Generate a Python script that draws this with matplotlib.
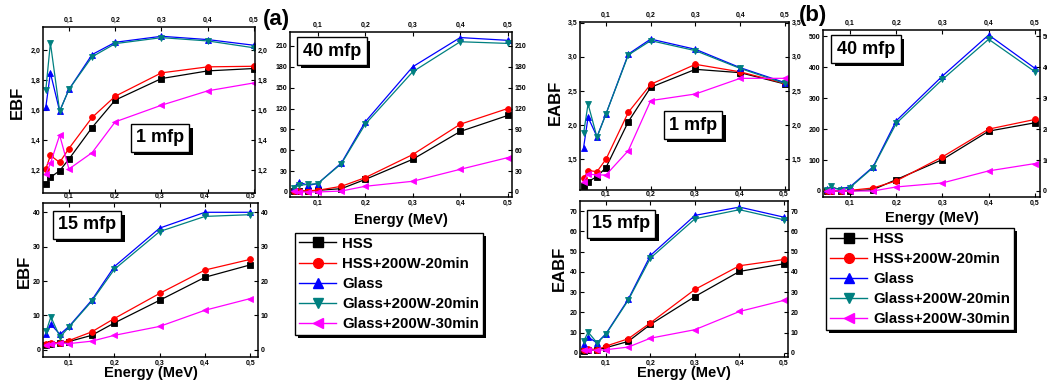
import matplotlib
matplotlib.use("Agg")
import matplotlib.pyplot as plt
from matplotlib.ticker import FuncFormatter, FixedLocator
import matplotlib.patheffects as pe
from matplotlib.lines import Line2D

plt.rcParams['font.family'] = ['Liberation Sans', 'DejaVu Sans']

energy = [0.05, 0.06, 0.08, 0.1, 0.15, 0.2, 0.3, 0.4, 0.5]
series_names = ["HSS", "HSS+200W-20min", "Glass", "Glass+200W-20min", "Glass+200W-30min"]
colors = ["black", "red", "blue", "#008080", "magenta"]
markers = ["s", "o", "^", "v", "<"]

# EBF, 1 mfp
ebf_1 = [
    [1.104, 1.151, 1.196, 1.273, 1.484, 1.667, 1.811, 1.862, 1.878],
    [1.207, 1.298, 1.251, 1.344, 1.551, 1.693, 1.849, 1.889, 1.893],
    [1.618, 1.849, 1.593, 1.738, 1.971, 2.053, 2.093, 2.071, 2.033],
    [1.733, 2.049, 1.593, 1.738, 1.956, 2.044, 2.084, 2.062, 2.016],
    [1.173, 1.244, 1.433, 1.207, 1.316, 1.522, 1.633, 1.729, 1.782],
]
# EBF, 15 mfp
ebf_15 = [
    [1.3, 1.6, 2.0, 2.4, 4.2, 7.8, 14.4, 21.1, 24.7],
    [1.6, 2.1, 2.0, 2.7, 5.2, 9.1, 16.4, 23.2, 26.3],
    [4.5, 7.4, 4.5, 6.8, 14.4, 24.2, 35.4, 40.0, 40.0],
    [5.5, 9.6, 3.7, 6.6, 14.1, 23.4, 34.4, 38.8, 39.3],
    [1.3, 1.6, 2.0, 1.8, 2.5, 4.2, 6.8, 11.5, 14.9],
]
# EBF, 40 mfp
ebf_40 = [
    [1.0, 1.4, 1.4, 2.4, 4.8, 18.0, 47.0, 87.0, 110.0],
    [1.0, 1.4, 1.9, 2.4, 8.2, 20.6, 53.8, 97.4, 120.0],
    [6.2, 14.4, 9.6, 12.0, 41.8, 100.8, 180.0, 222.0, 218.0],
    [6.2, 9.6, 11.0, 12.0, 40.8, 97.4, 172.8, 216.0, 213.6],
    [1.0, 0.0, 0.0, 0.0, 1.4, 8.2, 15.4, 32.6, 49.4],
]
# EABF, 1 mfp
eabf_1 = [
    [1.115, 1.173, 1.246, 1.378, 2.051, 2.554, 2.817, 2.768, 2.602],
    [1.220, 1.334, 1.320, 1.500, 2.188, 2.598, 2.890, 2.780, 2.610],
    [1.671, 2.115, 1.830, 2.163, 3.041, 3.260, 3.110, 2.841, 2.622],
    [1.880, 2.310, 1.822, 2.163, 3.027, 3.237, 3.090, 2.830, 2.610],
    [1.173, 1.285, 1.270, 1.270, 1.627, 2.359, 2.456, 2.685, 2.685],
]
# EABF, 15 mfp
eabf_15 = [
    [0.8, 1.2, 1.5, 2.5, 5.6, 14.0, 27.8, 40.2, 44.0],
    [1.5, 2.0, 1.5, 3.3, 6.9, 14.8, 31.3, 43.0, 46.1],
    [4.4, 7.7, 4.9, 9.4, 26.4, 48.1, 67.9, 72.0, 67.0],
    [5.8, 10.2, 4.9, 9.1, 25.9, 46.8, 66.2, 70.7, 65.7],
    [1.2, 1.5, 1.2, 1.5, 2.8, 7.2, 11.4, 20.4, 25.9],
]
# EABF, 40 mfp
eabf_40 = [
    [0.0, 0.0, 0.0, 0.0, 4.3, 36.8, 101.7, 193.7, 220.7],
    [0.0, 0.0, 0.0, 2.0, 9.7, 32.5, 110.4, 200.2, 231.5],
    [7.6, 7.6, 7.6, 13.0, 78.0, 227.0, 372.0, 505.0, 397.0],
    [4.3, 15.0, 2.0, 10.8, 75.7, 218.6, 361.0, 491.0, 386.0],
    [0.0, 0.0, 0.0, 0.0, 0.0, 13.0, 26.0, 65.0, 88.7],
]

x_ticks = [0.1, 0.2, 0.3, 0.4, 0.5]

W, H = 1047, 381
fig = plt.figure(figsize=(W / 100, H / 100), dpi=100)


def rect(x0, y0, x1, y1):
    return [x0 / W, 1 - y1 / H, (x1 - x0) / W, (y1 - y0) / H]


def comma(v, pos=None):
    return ("%.1f" % v).replace(".", ",")


def integer(v, pos=None):
    return "%d" % round(v)


shadow = [pe.SimplePatchShadow(offset=(2.5, -2.5), shadow_rgbFace="black", alpha=1.0), pe.Normal()]


def panel(r, data, ylim, yticks, xlim, tag, tagpos, ylabel=None, ylabpos=None, xlabel=False,
          bottom_labels=True):
    ax = fig.add_axes(rect(*r))
    for vals, c, m in zip(data, colors, markers):
        ax.plot(energy, vals, color=c, marker=m, markersize=4.2, linewidth=0.9,
                markeredgewidth=0.6)
    ax.set_xlim(*xlim)
    ax.set_ylim(*ylim)
    ax.xaxis.set_major_locator(FixedLocator(x_ticks))
    ax.yaxis.set_major_locator(FixedLocator(yticks))
    ax.xaxis.set_major_formatter(FuncFormatter(comma))
    if all(float(t).is_integer() for t in yticks):
        ax.yaxis.set_major_formatter(FuncFormatter(integer))
    else:
        ax.yaxis.set_major_formatter(FuncFormatter(comma))
    ax.tick_params(direction="in", length=3, width=0.8, labelsize=5, pad=2,
                   top=True, right=True, labeltop=True, labelright=True,
                   labelbottom=bottom_labels)
    for lab in ax.get_xticklabels() + ax.get_yticklabels():
        lab.set_fontweight("bold")
    for s in ax.spines.values():
        s.set_linewidth(1.1)
    t = ax.text(tagpos[0], tagpos[1], tag, transform=fig.transFigure, fontsize=13,
                fontweight="bold", ha="center", va="center",
                bbox=dict(boxstyle="square,pad=0.3", facecolor="white", edgecolor="black", linewidth=1.0))
    t.get_bbox_patch().set_path_effects(shadow)
    if ylabel:
        fig.text(ylabpos[0] / W, 1 - ylabpos[1] / H, ylabel, rotation=90, fontsize=12,
                 fontweight="bold", ha="center", va="center")
    if xlabel:
        cx = (r[0] + r[2]) / 2 / W
        fig.text(cx, 1 - xlabel / H, "Energy (MeV)", fontsize=10.5, fontweight="bold",
                 ha="center", va="center")
    return ax


# (a) panels
panel((43, 27, 255, 193), ebf_1, (1.047, 2.155), [1.2, 1.4, 1.6, 1.8, 2.0], (0.044, 0.502),
      "1 mfp", (160 / W, 1 - 138 / H), "EBF", (17, 102), bottom_labels=False)
panel((43, 203, 258, 357), ebf_15, (-2.1, 42.7), [0, 10, 20, 30, 40], (0.0426, 0.517),
      "15 mfp", (87 / W, 1 - 225 / H), "EBF", (24, 271), xlabel=373)
panel((290, 32, 512, 197), ebf_40, (-7.2, 230), [0, 30, 60, 90, 120, 150, 180, 210], (0.0417, 0.509),
      "40 mfp", (332 / W, 1 - 51 / H), xlabel=220)

# (b) panels
panel((580, 22, 789, 190), eabf_1, (1.05, 3.51), [1.5, 2.0, 2.5, 3.0, 3.5], (0.042, 0.509),
      "1 mfp", (693 / W, 1 - 125 / H), "EABF", (555, 102), bottom_labels=False)
panel((580, 201, 788, 357), eabf_15, (-2.1, 75), [0, 10, 20, 30, 40, 50, 60, 70], (0.0417, 0.509),
      "15 mfp", (621 / W, 1 - 224 / H), "EABF", (559, 268), xlabel=373)
panel((823, 30, 1040, 197), eabf_40, (-19.5, 521), [0, 100, 200, 300, 400, 500], (0.0417, 0.511),
      "40 mfp", (866 / W, 1 - 49 / H), xlabel=218)

fig.text(276 / W, 1 - 20 / H, "(a)", fontsize=16, fontweight="bold", ha="center", va="center")
fig.text(813 / W, 1 - 16 / H, "(b)", fontsize=16, fontweight="bold", ha="center", va="center")

handles = [Line2D([], [], color=c, marker=m, markersize=7, linewidth=1.0) for c, m in zip(colors, markers)]


def add_legend(x0, y0):
    leg = fig.legend(handles, series_names, loc="upper left", bbox_to_anchor=(x0 / W, 1 - y0 / H),
                     borderaxespad=0, frameon=True, fancybox=False, edgecolor="black",
                     facecolor="white", framealpha=1.0,
                     prop=dict(weight="bold", size=10.8), handlelength=2.5, handletextpad=0.4,
                     labelspacing=0.4, borderpad=0.25)
    leg.get_frame().set_linewidth(1.0)
    leg.get_frame().set_path_effects(shadow)
    return leg


add_legend(295, 233)
add_legend(826, 228)

fig.savefig("out.png", dpi=100)
